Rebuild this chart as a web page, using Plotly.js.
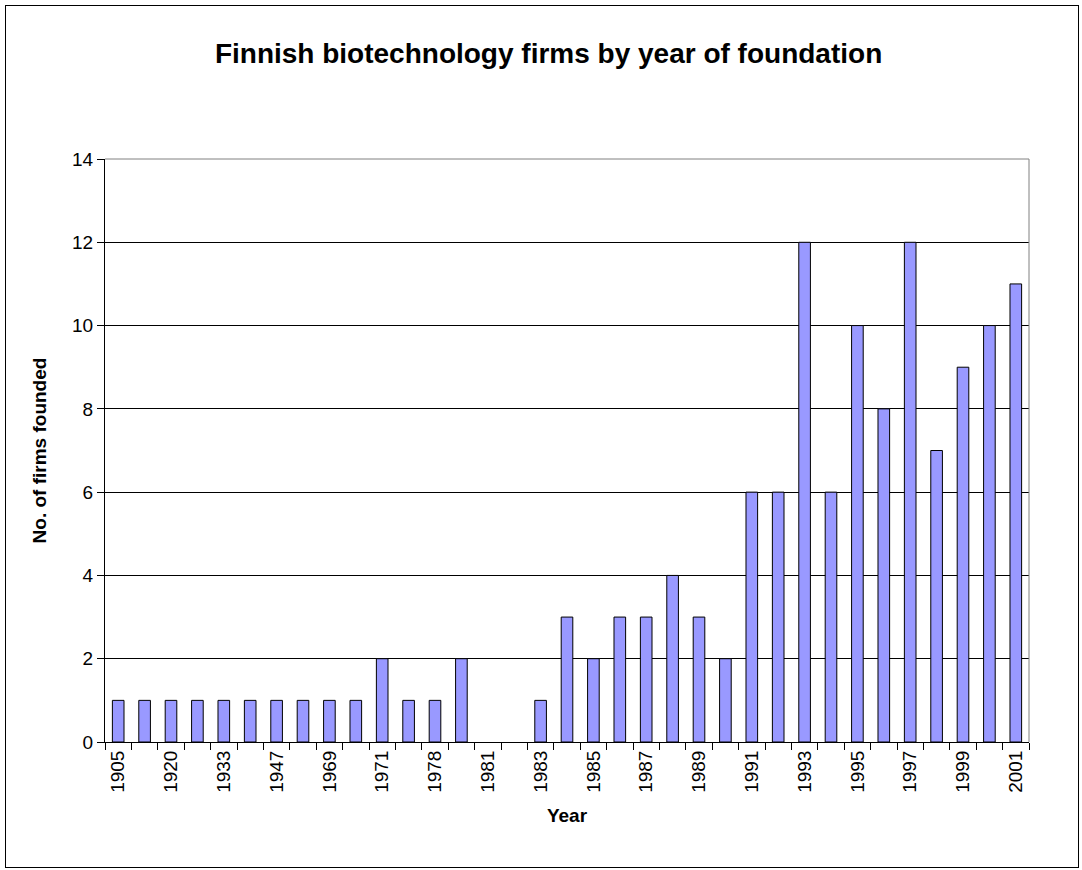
<!DOCTYPE html>
<html>
<head>
<meta charset="utf-8">
<script src="https://cdn.plot.ly/plotly-3.0.1.min.js"></script>
<style>
  html, body { margin: 0; padding: 0; background: #fff; }
  #wrap { position: relative; width: 1082px; height: 870px; }
  #chart { width: 1082px; height: 870px; }
  #frame { position: absolute; left: 5px; top: 5px; width: 1072px; height: 861px;
           border: 1px solid #000; pointer-events: none; }
</style>
</head>
<body>
<div id="wrap">
  <div id="chart"></div>
  <div id="frame"></div>
</div>
<script>
// Categories (years of foundation); unlabeled ones are estimated
const years = ['1905','1912','1920','1926','1933','1940','1947','1960','1969','1970',
               '1971','1975','1978','1980','1981','1982','1983','1984','1985','1986',
               '1987','1988','1989','1990','1991','1992','1993','1994','1995','1996',
               '1997','1998','1999','2000','2001'];
// Number of firms founded
const firms = [1,1,1,1,1,1,1,1,1,1,
               2,1,1,2,0,0,1,3,2,3,
               3,4,3,2,6,6,12,6,10,8,
               12,7,9,10,11];
// Tick labels as shown (every other category labelled)
const tickLabels = ['1905','','1920','','1933','','1947','','1969','',
                    '1971','','1978','','1981','','1983','','1985','',
                    '1987','','1989','','1991','','1993','','1995','',
                    '1997','','1999','','2001'];
const yTicks = [0,2,4,6,8,10,12,14];

const FONT = 'Arial, "Liberation Sans", sans-serif';

const trace = {
  type: 'bar',
  x: years,
  y: firms,
  marker: {
    color: '#9999FF',
    line: { color: '#000000', width: firms.map(v => (v === 0 ? 0 : 1)) }
  },
  hoverinfo: 'x+y'
};

const layout = {
  width: 1082, height: 870,
  margin: { l: 105, r: 53, t: 159, b: 128 },
  paper_bgcolor: '#ffffff', plot_bgcolor: '#ffffff',
  font: { family: FONT, color: '#000', size: 19 },
  showlegend: false,
  bargap: 0.56,
  title: {
    text: '<b>Finnish biotechnology firms by year of foundation</b>',
    font: { family: FONT, size: 28, color: '#000' },
    x: 0.507, xref: 'container', xanchor: 'center',
    y: 1 - 53/870, yref: 'container', yanchor: 'middle'
  },
  xaxis: {
    type: 'category',
    range: [-0.5, years.length - 0.5],
    tickmode: 'array', tickvals: years, ticktext: tickLabels,
    tickson: 'boundaries', ticks: 'outside', ticklen: 7, tickcolor: '#000', tickwidth: 1,
    tickangle: -90, tickfont: { family: FONT, size: 19, color: '#000' },
    showline: true, linecolor: '#000', linewidth: 1,
    showgrid: false, zeroline: false,
    title: { text: '<b>Year</b>', font: { family: FONT, size: 19, color: '#000' }, standoff: 16 }
  },
  yaxis: {
    range: [0, 14],
    tickmode: 'array', tickvals: yTicks, ticktext: yTicks.map(String),
    ticks: 'outside', ticklen: 7, tickcolor: '#000', tickwidth: 1,
    tickfont: { family: FONT, size: 19, color: '#000' },
    showline: true, linecolor: '#000', linewidth: 1,
    showgrid: true, gridcolor: '#000', gridwidth: 1, zeroline: false,
    title: { text: '<b>No. of firms founded</b>', font: { family: FONT, size: 19, color: '#000' }, standoff: 20 }
  },
  shapes: [
    { type: 'line', xref: 'paper', yref: 'paper', x0: 0, x1: 1, y0: 1, y1: 1,
      line: { color: '#808080', width: 1 }, layer: 'above' },
    { type: 'line', xref: 'paper', yref: 'paper', x0: 1, x1: 1, y0: 0, y1: 1,
      line: { color: '#808080', width: 1 }, layer: 'above' }
  ]
};

Plotly.newPlot('chart', [trace], layout, { displayModeBar: false });
</script>
</body>
</html>
